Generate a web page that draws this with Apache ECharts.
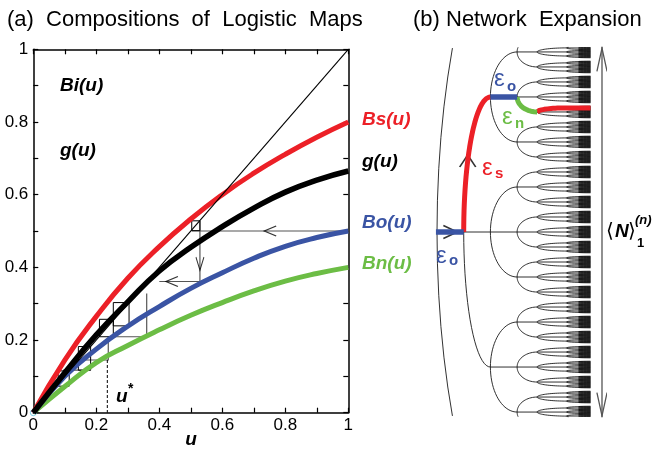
<!DOCTYPE html>
<html>
<head>
<meta charset="utf-8">
<script src="https://cdn.jsdelivr.net/npm/echarts@6/dist/echarts.min.js"></script>
<style>
html, body { margin: 0; padding: 0; background: #fff; }
#main { width: 656px; height: 451px; }
</style>
</head>
<body>
<div id="main"></div>
<script>
// (a) curve values at u = 0, 0.1 ... 1
var uVals  = [0, 0.1, 0.2, 0.3, 0.4, 0.5, 0.6, 0.7, 0.8, 0.9, 1];
var bsVals = [0, 0.145, 0.265, 0.37, 0.457, 0.533, 0.6, 0.659, 0.711, 0.758, 0.8];
var gVals  = [0, 0.11, 0.214, 0.305, 0.39, 0.455, 0.512, 0.563, 0.607, 0.64, 0.665];
var boVals = [0, 0.1, 0.175, 0.238, 0.292, 0.342, 0.385, 0.425, 0.458, 0.482, 0.5];
var bnVals = [0, 0.072, 0.138, 0.185, 0.228, 0.268, 0.303, 0.335, 0.362, 0.383, 0.4];
var diagonal = [[0, 0], [1, 1]];

// cobweb steps (u, value)
var cobGray = [
    [[1, 0.5], [0.503, 0.5]],
    [[0.529, 0.528], [0.529, 0.361]],
    [[0.529, 0.361], [0.40, 0.361]],
    [[0.36, 0.328], [0.36, 0.209], [0.238, 0.209]],
    [[0.238, 0.209], [0.238, 0.145], [0.143, 0.145]],
    [[0.182, 0.117], [0.095, 0.117]]
];
var cobBoxes = [
    [0.503, 0.501, 0.529, 0.528],
    [0.254, 0.239, 0.304, 0.303],
    [0.21, 0.209, 0.254, 0.257],
    [0.143, 0.117, 0.182, 0.182],
    [0.079, 0.073, 0.114, 0.115]
];
var uStar = 0.235;
var cobArrows = [[0.752, 0.5, 'left'], [0.44, 0.361, 'left'], [0.529, 0.41, 'down']];

// (b) tree: depth positions and child spread per depth (in leaf spacings)
var depthX = [0, 1, 2, 3, 3.75, 4.85, 5.3, 5.75];
var childGap = [27, 9, 3, 1, 0.27, 0.09, 0.03];
var rootReach = 5.3;
var yLim = 12.33;

var RED = '#ec2027', BLUE = '#3a54a4', GREEN = '#6cbd45';

function mk(arr) {
    return uVals.map(function (u, i) { return [u, arr[i]]; });
}
function boxPath(b) {
    return [[b[0], b[1]], [b[2], b[1]], [b[2], b[3]], [b[0], b[3]], [b[0], b[1]]];
}
function arcPts(x0, y0, reach, gap, t0, t1, n) {
    var p = [];
    for (var i = 0; i <= n; i++) {
        var t = t0 + (t1 - t0) * i / n;
        p.push([x0 + reach * (1 - Math.cos(t)), y0 + gap * Math.sin(t)]);
    }
    return p;
}
function clipPush(list, pts) {
    var cur = [];
    pts.forEach(function (p) {
        if (Math.abs(p[1]) <= yLim) cur.push(p);
        else { if (cur.length > 1) list.push({coords: cur}); cur = []; }
    });
    if (cur.length > 1) list.push({coords: cur});
}

var trunk = [], twigs = [];
function grow(d, y) {
    if (d >= depthX.length - 1) return;
    var g = childGap[d];
    if (Math.abs(y) - 1.5 * g > 13) return;
    var reach = d === 0 ? rootReach : depthX[d + 1] - depthX[d];
    var list = d < 5 ? trunk : twigs;
    clipPush(list, arcPts(depthX[d], y, reach, g, -Math.PI / 2, Math.PI / 2, d < 5 ? 40 : 10));
    clipPush(list, [[depthX[d], y], [depthX[d + 1], y]]);
    [-g, 0, g].forEach(function (o) {
        if (d > 0 || o === 0) grow(d + 1, y + o);
    });
}
grow(0, 0);

// highlighted path through the tree
var epsO1 = [[-0.04, 0], [1, 0]];
var epsS = arcPts(1, 0, 1, 9, 0, -Math.PI / 2, 30);
var epsO2 = [[2, -9], [3, -9]];
var epsN = arcPts(3, -9, 0.75, 1, 0, Math.PI / 2, 20);
var leafRed = arcPts(3.75, -8, 1.1, 0.27, 0, -Math.PI / 2, 20).concat([[5.75, -8.27]]);
var bigArrow = [
    {coords: [[6.18, -yLim], [6.18, yLim]]},
    {coords: [[5.99, -10.7], [6.18, -12.25], [6.37, -10.7]]},
    {coords: [[5.99, 10.7], [6.18, 12.25], [6.37, 10.7]]}
];

var chevL = 'path://M12,0 L0,5 L12,10';
var chevD = 'path://M0,0 L4,13 L8,0';
var chevR = 'path://M0,0 L14,6 L0,12';
var chevU = 'path://M0,12 L8,0 L16,12';

var F = '"Liberation Sans", Arial, sans-serif';
var BI = 'italic bold 19px ' + F;

function frameAxis(extra) {
    var base = {
        gridIndex: 0, type: 'value', min: 0, max: 1, interval: 0.2,
        axisLine: {onZero: false, lineStyle: {color: '#000', width: 1.5}},
        axisTick: {inside: true, length: 5, lineStyle: {color: '#000', width: 1.2}},
        minorTick: {show: true, splitNumber: 2, length: 5, lineStyle: {color: '#000', width: 1.2}},
        splitLine: {show: false},
        axisLabel: {show: false}
    };
    return Object.assign(base, extra);
}
var labelStyle = {show: true, fontSize: 17, color: '#000', fontFamily: F};

function txt(x, y, s, font, fill, align) {
    return {
        type: 'text', x: x, y: y, z: 100,
        style: {text: s, font: font, fill: fill || '#000', align: align || 'left', verticalAlign: 'middle'}
    };
}

var cobLines = cobGray.map(function (c) { return {coords: c}; });
var boxLines = cobBoxes.map(function (b) { return {coords: boxPath(b)}; });

var option = {
    animation: false,
    backgroundColor: '#fff',
    grid: [
        {left: 33.3, top: 49.3, width: 315, height: 363.4},
        {left: 429, top: 47, width: 176.2, height: 370}
    ],
    xAxis: [
        frameAxis({position: 'bottom', axisLabel: Object.assign({margin: 4}, labelStyle)}),
        frameAxis({position: 'top'}),
        {gridIndex: 1, type: 'value', min: -0.3, max: 6.3, show: false}
    ],
    yAxis: [
        frameAxis({position: 'left', axisLabel: Object.assign({margin: 5}, labelStyle)}),
        frameAxis({position: 'right'}),
        {gridIndex: 1, type: 'value', min: -yLim, max: yLim, inverse: true, show: false}
    ],
    graphic: [
        txt(7, 20, '(a)  Compositions  of  Logistic  Maps', '22px ' + F),
        txt(413, 20, '(b) Network  Expansion', '22px ' + F),
        txt(60, 86, 'Bi(u)', BI),
        txt(60, 151, 'g(u)', BI),
        txt(362, 120, 'Bs(u)', BI, RED),
        txt(362, 162, 'g(u)', BI, '#000'),
        txt(362, 223, 'Bo(u)', BI, BLUE),
        txt(362, 264, 'Bn(u)', BI, GREEN),
        txt(191, 440, 'u', BI, '#000', 'center'),
        txt(116, 397, 'u', BI),
        txt(128, 389, '*', 'bold 14px ' + F),
        txt(494, 79, 'ε', '24px ' + F, BLUE),
        txt(507, 87, 'o', 'bold 15px ' + F, BLUE),
        txt(502, 117, 'ε', '24px ' + F, GREEN),
        txt(515, 124, 'n', 'bold 15px ' + F, GREEN),
        txt(482, 168, 'ε', '24px ' + F, RED),
        txt(495, 174, 's', 'bold 15px ' + F, RED),
        txt(436, 256, 'ε', '24px ' + F, BLUE),
        txt(449, 261, 'o', 'bold 15px ' + F, BLUE),
        txt(606, 232, '⟨', '20px "DejaVu Sans", sans-serif'),
        txt(615, 232, 'N', 'italic bold 19px ' + F),
        txt(628, 232, '⟩', '20px "DejaVu Sans", sans-serif'),
        txt(635, 220, '(n)', 'italic bold 13px ' + F),
        txt(637, 243, '1', 'bold 13px ' + F)
    ],
    series: [
        {type: 'line', xAxisIndex: 0, yAxisIndex: 0, data: mk(bsVals), smooth: true, showSymbol: false,
            lineStyle: {color: RED, width: 5}},
        {type: 'line', xAxisIndex: 0, yAxisIndex: 0, data: mk(bnVals), smooth: true, showSymbol: false,
            lineStyle: {color: GREEN, width: 5}},
        {type: 'line', xAxisIndex: 0, yAxisIndex: 0, data: mk(boVals), smooth: true, showSymbol: false,
            lineStyle: {color: BLUE, width: 5}},
        {type: 'line', xAxisIndex: 0, yAxisIndex: 0, data: mk(gVals), smooth: true, showSymbol: false,
            lineStyle: {color: '#000', width: 5.5}},
        {type: 'line', xAxisIndex: 0, yAxisIndex: 0, data: diagonal, showSymbol: false,
            lineStyle: {color: '#000', width: 1.1}},
        {type: 'lines', coordinateSystem: 'cartesian2d', xAxisIndex: 0, yAxisIndex: 0, polyline: true,
            data: cobLines, lineStyle: {color: '#555', width: 1.2, opacity: 1}},
        {type: 'lines', coordinateSystem: 'cartesian2d', xAxisIndex: 0, yAxisIndex: 0, polyline: true,
            data: boxLines, lineStyle: {color: '#000', width: 1, opacity: 1}},
        {type: 'line', xAxisIndex: 0, yAxisIndex: 0, data: [[uStar, 0.145], [uStar, 0]], showSymbol: false,
            lineStyle: {color: '#000', width: 1, type: [3, 2]}},
        {type: 'scatter', xAxisIndex: 0, yAxisIndex: 0,
            data: cobArrows.map(function (a) {
                return {value: [a[0], a[1]],
                    symbol: a[2] === 'left' ? chevL : chevD,
                    symbolSize: a[2] === 'left' ? [12, 10] : [8, 13]};
            }),
            itemStyle: {color: 'none', borderColor: '#000', borderWidth: 1.2}},
        {type: 'scatter', xAxisIndex: 0, yAxisIndex: 0, data: [[0, 0]], symbolSize: 6,
            itemStyle: {color: 'none', borderColor: '#5fc4e0', borderWidth: 1}},

        // (b)
        {type: 'lines', coordinateSystem: 'cartesian2d', xAxisIndex: 2, yAxisIndex: 2, polyline: true,
            data: trunk, lineStyle: {color: '#1a1a1a', width: 0.9, opacity: 1}},
        {type: 'lines', coordinateSystem: 'cartesian2d', xAxisIndex: 2, yAxisIndex: 2, polyline: true,
            data: twigs, lineStyle: {color: '#0a0a0a', width: 0.75, opacity: 1}},
        {type: 'lines', coordinateSystem: 'cartesian2d', xAxisIndex: 2, yAxisIndex: 2, polyline: true,
            data: bigArrow, lineStyle: {color: '#555', width: 1.3, opacity: 1}},
        {type: 'line', xAxisIndex: 2, yAxisIndex: 2, data: epsS, showSymbol: false,
            lineStyle: {color: RED, width: 5}},
        {type: 'line', xAxisIndex: 2, yAxisIndex: 2, data: leafRed, showSymbol: false,
            lineStyle: {color: RED, width: 5}},
        {type: 'line', xAxisIndex: 2, yAxisIndex: 2, data: epsN, showSymbol: false,
            lineStyle: {color: GREEN, width: 5}},
        {type: 'line', xAxisIndex: 2, yAxisIndex: 2, data: epsO1, showSymbol: false,
            lineStyle: {color: BLUE, width: 5.5}},
        {type: 'line', xAxisIndex: 2, yAxisIndex: 2, data: epsO2, showSymbol: false,
            lineStyle: {color: BLUE, width: 5.5}},
        {type: 'scatter', xAxisIndex: 2, yAxisIndex: 2,
            data: [
                {value: [0.5, 0], symbol: chevR, symbolSize: [14, 13]},
                {value: [1.15, -4.73], symbol: chevU, symbolSize: [16, 12]}
            ],
            itemStyle: {color: 'none', borderColor: '#000', borderWidth: 1.5}}
    ]
};

echarts.init(document.getElementById('main')).setOption(option);
</script>
</body>
</html>
